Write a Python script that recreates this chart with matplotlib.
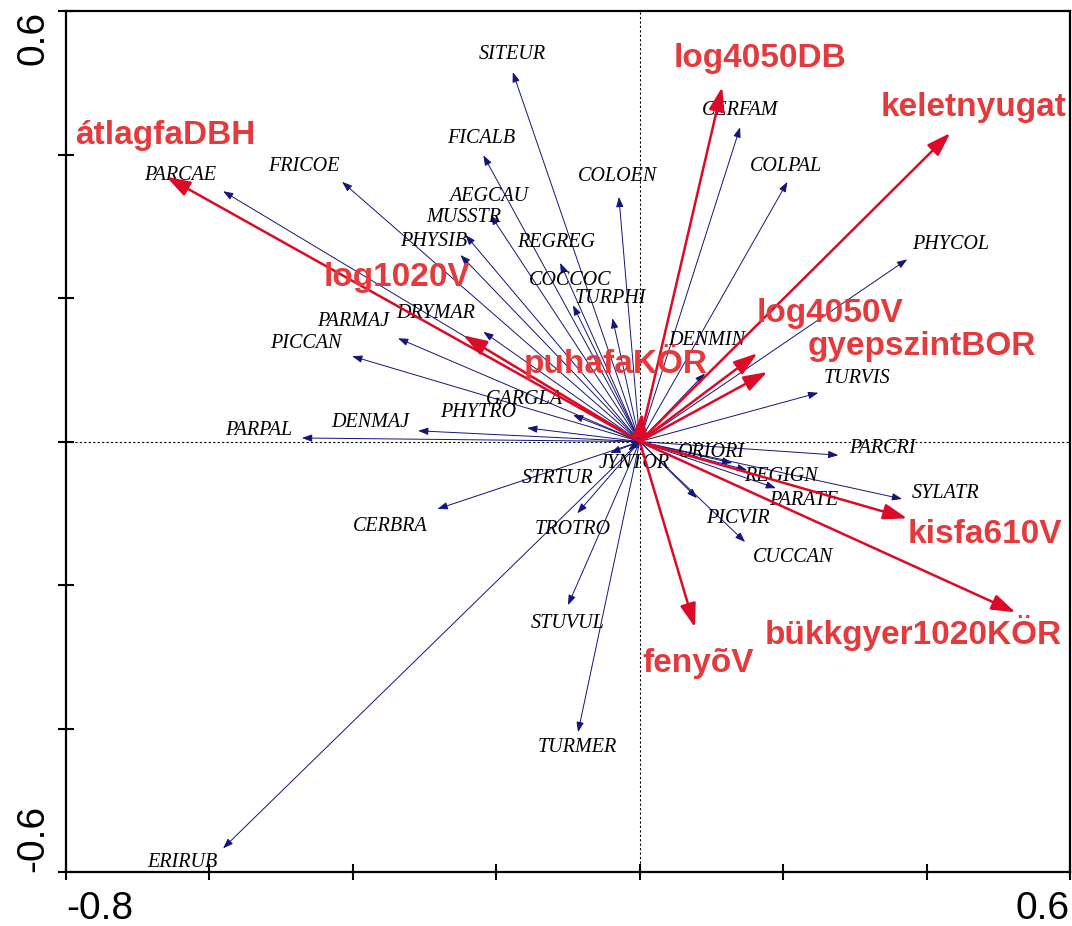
import matplotlib
matplotlib.use("Agg")
import matplotlib.pyplot as plt

# species scores (arrow tips)
species = ["SITEUR", "FICALB", "COLOEN", "AEGCAU", "MUSSTR", "PHYSIB", "REGREG",
           "COCCOC", "TURPHI", "DRYMAR", "PARMAJ", "PICCAN", "GARGLA", "PHYTRO",
           "DENMAJ", "PARPAL", "CERBRA", "STRTUR", "JYNTOR", "TROTRO", "STUVUL",
           "TURMER", "ERIRUB", "ORIORI", "PARCRI", "REGIGN", "SYLATR", "PARATE",
           "PICVIR", "CUCCAN", "TURVIS", "PHYCOL", "COLPAL", "CERFAM", "DENMIN",
           "PARCAE", "FRICOE"]
sp_x = [-0.177, -0.218, -0.029, -0.208, -0.243, -0.250, -0.111,
        -0.093, -0.038, -0.218, -0.337, -0.401, -0.093, -0.157,
        -0.309, -0.471, -0.282, -0.041, -0.016, -0.087, -0.100,
        -0.086, -0.581, 0.129, 0.277, 0.150, 0.366, 0.190,
        0.080, 0.147, 0.249, 0.373, 0.206, 0.140, 0.091,
        -0.581, -0.415]
sp_y = [0.515, 0.399, 0.341, 0.316, 0.288, 0.260, 0.249,
        0.190, 0.172, 0.153, 0.144, 0.119, 0.037, 0.019,
        0.015, 0.005, -0.094, -0.016, -0.012, -0.100, -0.228,
        -0.405, -0.567, -0.030, -0.019, -0.040, -0.080, -0.065,
        -0.079, -0.140, 0.068, 0.254, 0.362, 0.438, 0.095,
        0.349, 0.362]

# environmental variables (arrow tips)
env = ["átlagfaDBH", "log1020V", "log4050DB", "keletnyugat", "log4050V",
       "gyepszintBOR", "puhafaKÖR", "kisfa610V", "bükkgyer1020KÖR", "fenyõV"]
env_x = [-0.660, -0.246, 0.115, 0.433, 0.164, 0.178, 0.003, 0.373, 0.524, 0.077]
env_y = [0.369, 0.148, 0.494, 0.430, 0.123, 0.097, 0.040, -0.107, -0.238, -0.259]

# label placement (layout only)
sp_lab = {
    "SITEUR": (-0.178, 0.539), "FICALB": (-0.221, 0.423), "COLOEN": (-0.031, 0.369),
    "AEGCAU": (-0.210, 0.342), "MUSSTR": (-0.246, 0.312), "PHYSIB": (-0.287, 0.279),
    "REGREG": (-0.116, 0.277), "COCCOC": (-0.097, 0.225), "TURPHI": (-0.041, 0.199),
    "DRYMAR": (-0.285, 0.179), "PARMAJ": (-0.400, 0.167), "PICCAN": (-0.465, 0.137),
    "GARGLA": (-0.161, 0.059), "PHYTRO": (-0.225, 0.040), "DENMAJ": (-0.376, 0.026),
    "PARPAL": (-0.531, 0.015), "CERBRA": (-0.348, -0.118), "STRTUR": (-0.114, -0.051),
    "JYNTOR": (-0.008, -0.030), "TROTRO": (-0.093, -0.123), "STUVUL": (-0.101, -0.253),
    "TURMER": (-0.087, -0.426), "ERIRUB": (-0.638, -0.587), "ORIORI": (0.100, -0.015),
    "PARCRI": (0.338, -0.009), "REGIGN": (0.197, -0.049), "SYLATR": (0.427, -0.072),
    "PARATE": (0.229, -0.082), "PICVIR": (0.137, -0.107), "CUCCAN": (0.214, -0.162),
    "TURVIS": (0.303, 0.088), "PHYCOL": (0.434, 0.274), "COLPAL": (0.204, 0.384),
    "CERFAM": (0.140, 0.461), "DENMIN": (0.094, 0.141), "PARCAE": (-0.641, 0.371),
    "FRICOE": (-0.469, 0.383),
}
env_lab = {
    "átlagfaDBH": (-0.662, 0.427), "log1020V": (-0.338, 0.228),
    "log4050DB": (0.168, 0.534), "keletnyugat": (0.465, 0.465),
    "log4050V": (0.266, 0.179), "gyepszintBOR": (0.393, 0.132),
    "puhafaKÖR": (-0.034, 0.111), "kisfa610V": (0.482, -0.130),
    "bükkgyer1020KÖR": (0.381, -0.267), "fenyõV": (0.082, -0.309),
}

navy = "#14147a"
red_arrow = "#dc0a28"
red_text = "#e33b3d"

fig = plt.figure(figsize=(10.72, 9.26), dpi=100)
ax = fig.add_axes([0.0616, 0.0583, 0.9365, 0.9297])
ax.set_xlim(-0.8, 0.6)
ax.set_ylim(-0.6, 0.6)

ax.axhline(0, color="black", lw=0.8, ls=(0, (2, 2)), zorder=1)
ax.axvline(0, color="black", lw=0.8, ls=(0, (2, 2)), zorder=1)

for name, x, y in zip(species, sp_x, sp_y):
    ax.annotate("", xy=(x, y), xytext=(0, 0),
                arrowprops=dict(arrowstyle="-|>,head_length=0.6,head_width=0.22",
                                color=navy, lw=0.7, mutation_scale=10,
                                shrinkA=0, shrinkB=0), zorder=2)
    lx, ly = sp_lab[name]
    ax.text(lx, ly, name, fontsize=14.5, fontstyle="italic",
            family="Liberation Serif", ha="center", va="center", zorder=3)

for name, x, y in zip(env, env_x, env_y):
    ax.annotate("", xy=(x, y), xytext=(0, 0),
                arrowprops=dict(arrowstyle="-|>,head_length=1.2,head_width=0.4",
                                color=red_arrow, lw=1.8, mutation_scale=12,
                                shrinkA=0, shrinkB=0), zorder=4)
    lx, ly = env_lab[name]
    ax.text(lx, ly, name, fontsize=24, fontweight="bold",
            family="Liberation Sans", color=red_text,
            ha="center", va="center", zorder=5)

xt = [-0.8, -0.6, -0.4, -0.2, 0.0, 0.2, 0.4, 0.6]
yt = [-0.6, -0.4, -0.2, 0.0, 0.2, 0.4, 0.6]
ax.set_xticks(xt)
ax.set_xticklabels(["-0.8", "", "", "", "", "", "", "0.6"])
ax.set_yticks(yt)
ax.set_yticklabels(["-0.6", "", "", "", "", "", "0.6"])
ax.tick_params(direction="inout", length=11, width=1.5, labelsize=28, pad=5)
ax.tick_params(axis="x", pad=8)
xl = ax.get_xticklabels()
for lab in xl:
    lab.set_family("Liberation Sans")
xl[0].set_ha("left")
xl[-1].set_ha("right")
yl = ax.get_yticklabels()
for lab in yl:
    lab.set_family("Liberation Sans")
    lab.set_rotation(90)
yl[0].set_va("bottom")
yl[-1].set_va("top")

for s in ax.spines.values():
    s.set_linewidth(1.6)

fig.savefig("out.png", dpi=100)
